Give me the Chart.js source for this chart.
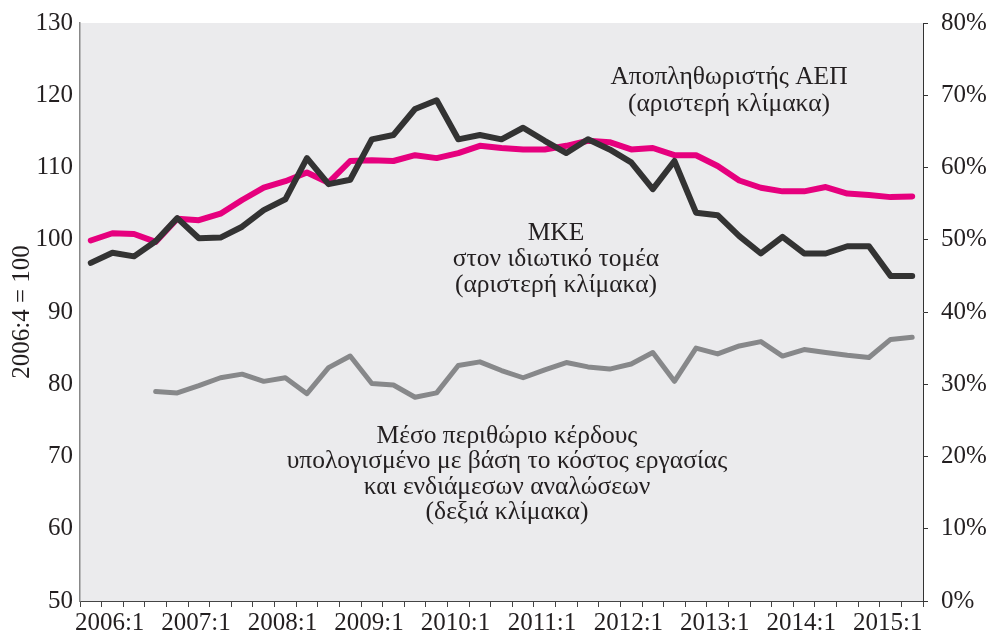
<!DOCTYPE html>
<html><head><meta charset="utf-8">
<script src="https://cdn.jsdelivr.net/npm/chart.js@4/dist/chart.umd.min.js"></script>
<style>html,body{margin:0;padding:0;background:#fff}</style>
</head><body>
<canvas id="c" width="992" height="636"></canvas>
<script>
const categories = [
  '2006:1','2006:2','2006:3','2006:4','2007:1','2007:2','2007:3','2007:4',
  '2008:1','2008:2','2008:3','2008:4','2009:1','2009:2','2009:3','2009:4',
  '2010:1','2010:2','2010:3','2010:4','2011:1','2011:2','2011:3','2011:4',
  '2012:1','2012:2','2012:3','2012:4','2013:1','2013:2','2013:3','2013:4',
  '2014:1','2014:2','2014:3','2014:4','2015:1','2015:2','2015:3'
];
const tickLabels = ['2006:1','2007:1','2008:1','2009:1','2010:1','2011:1','2012:1','2013:1','2014:1','2015:1'];
const leftTicks = [50, 60, 70, 80, 90, 100, 110, 120, 130];
const rightTicks = [0, 10, 20, 30, 40, 50, 60, 70, 80];

// ΜΚΕ στον ιδιωτικό τομέα (αριστερή κλίμακα)
const ulcPrivate = [96.8, 98.2, 97.7, 99.8, 103.0, 100.2, 100.3, 101.8, 104.1, 105.6, 111.3, 107.7, 108.3,
  113.9, 114.5, 118.1, 119.3, 113.9, 114.5, 113.9, 115.5, 113.7, 112.0, 113.9, 112.5, 110.7, 107.0,
  110.9, 103.75, 103.4, 100.5, 98.1, 100.4, 98.1, 98.1, 99.1, 99.1, 95.0, 95.0];
// Αποπληθωριστής ΑΕΠ (αριστερή κλίμακα)
const gdpDeflator = [99.9, 100.9, 100.8, 99.7, 102.9, 102.7, 103.6, 105.5, 107.2, 108.1, 109.3, 107.9, 110.9,
  111.0, 110.9, 111.7, 111.3, 112.0, 113.0, 112.7, 112.5, 112.5, 113.0, 113.7, 113.5, 112.5, 112.7,
  111.7, 111.7, 110.2, 108.2, 107.2, 106.7, 106.7, 107.3, 106.4, 106.2, 105.9, 106.0];
// Μέσο περιθώριο κέρδους (δεξιά κλίμακα, %)
const profitMargin = [null, null, null, 29.0, 28.8, 29.8, 30.9, 31.4, 30.4, 30.9, 28.7, 32.3, 33.9,
  30.1, 29.9, 28.2, 28.8, 32.6, 33.1, 31.9, 30.9, 32.0, 33.0, 32.4, 32.1, 32.8, 34.4,
  30.4, 35.0, 34.2, 35.3, 35.9, 33.9, 34.8, 34.4, 34.0, 33.7, 36.2, 36.5];

const yTitle = '2006:4 = 100';
const noteDeflator = ['Αποπληθωριστής ΑΕΠ', '(αριστερή κλίμακα)'];
const noteUlc = ['ΜΚΕ', 'στον ιδιωτικό τομέα', '(αριστερή κλίμακα)'];
const noteMargin = ['Μέσο περιθώριο κέρδους', 'υπολογισμένο με βάση το κόστος εργασίας', 'και ενδιάμεσων αναλώσεων', '(δεξιά κλίμακα)'];

const FONT = "'Liberation Serif', serif";
const TXT = '#231f20';

const bgPlugin = {
  id: 'bg',
  beforeDraw(chart) {
    const {ctx, chartArea: a} = chart;
    ctx.save();
    ctx.fillStyle = '#ffffff';
    ctx.fillRect(0, 0, chart.width, chart.height);
    ctx.fillStyle = '#ebebed';
    ctx.fillRect(a.left, a.top, a.right - a.left, a.bottom - a.top);
    ctx.restore();
  }
};

const notesPlugin = {
  id: 'notes',
  afterDraw(chart) {
    const {ctx} = chart;
    const groups = [
      {lines: noteDeflator, x: 729, y: 84, dy: 27},
      {lines: noteUlc, x: 556, y: 240, dy: 26},
      {lines: noteMargin, x: 507, y: 443, dy: 25.3}
    ];
    ctx.save();
    ctx.font = "25.5px " + FONT;
    ctx.fillStyle = TXT;
    ctx.textAlign = 'center';
    ctx.textBaseline = 'alphabetic';
    groups.forEach(g => g.lines.forEach((t, i) => ctx.fillText(t, g.x, g.y + i * g.dy)));
    ctx.restore();
  }
};

function noOverflow(s) { s.paddingTop = 0; s.paddingBottom = 0; s.paddingLeft = 0; s.paddingRight = 0; }

new Chart(document.getElementById('c'), {
  type: 'line',
  data: {
    labels: categories,
    datasets: [
      {label: 'ΜΚΕ', data: ulcPrivate, yAxisID: 'y', borderColor: '#333333', borderWidth: 6},
      {label: 'Αποπληθωριστής ΑΕΠ', data: gdpDeflator, yAxisID: 'y', borderColor: '#e6007e', borderWidth: 6},
      {label: 'Μέσο περιθώριο κέρδους', data: profitMargin, yAxisID: 'y2', borderColor: '#87888a', borderWidth: 5}
    ]
  },
  options: {
    responsive: false,
    animation: false,
    devicePixelRatio: 1,
    layout: {padding: {top: 23, left: 0, right: 0, bottom: 0}},
    elements: {
      point: {radius: 0, hoverRadius: 0},
      line: {tension: 0, borderCapStyle: 'round', borderJoinStyle: 'round', fill: false}
    },
    plugins: {legend: {display: false}, tooltip: {enabled: false}},
    scales: {
      x: {
        type: 'category',
        position: 'bottom',
        weight: 0,
        offset: true,
        grid: {display: true, drawOnChartArea: false, drawTicks: true, tickLength: 6, color: '#444', offset: true},
        border: {display: true, color: '#444', width: 1},
        ticks: {display: false},
        afterFit(s) { s.height = 7; noOverflow(s); }
      },
      x2: {
        type: 'linear',
        position: 'bottom',
        weight: 1,
        min: -0.5,
        max: categories.length - 0.5,
        grid: {display: false, drawTicks: false},
        border: {display: false},
        afterBuildTicks(s) {
          s.ticks = tickLabels.map(l => ({value: categories.indexOf(l) + 0.87}));
        },
        ticks: {
          autoSkip: false, maxRotation: 0, padding: 0,
          font: {family: FONT, size: 25}, color: TXT,
          callback: (v, i) => tickLabels[i]
        },
        afterFit(s) { s.height = 28; noOverflow(s); }
      },
      y: {
        type: 'linear',
        position: 'left',
        min: 50, max: 130,
        afterBuildTicks(s) { s.ticks = leftTicks.map(v => ({value: v})); },
        grid: {display: false, drawTicks: false},
        border: {display: true, color: '#888', width: 1.5},
        ticks: {padding: 7, font: {family: FONT, size: 25}, color: TXT},
        title: {display: true, text: yTitle, font: {family: FONT, size: 25}, color: TXT, padding: {top: 7, bottom: 0}},
        afterFit(s) { s.width = 80; noOverflow(s); }
      },
      y2: {
        type: 'linear',
        position: 'right',
        min: 0, max: 80,
        afterBuildTicks(s) { s.ticks = rightTicks.map(v => ({value: v})); },
        grid: {display: true, drawOnChartArea: false, drawTicks: true, tickLength: 5, color: '#333'},
        border: {display: true, color: '#333', width: 1},
        ticks: {padding: 13, font: {family: FONT, size: 25}, color: TXT, callback: v => v + '%'},
        afterFit(s) { s.width = 69; noOverflow(s); }
      }
    }
  },
  plugins: [bgPlugin, notesPlugin]
});
</script>
</body></html>
